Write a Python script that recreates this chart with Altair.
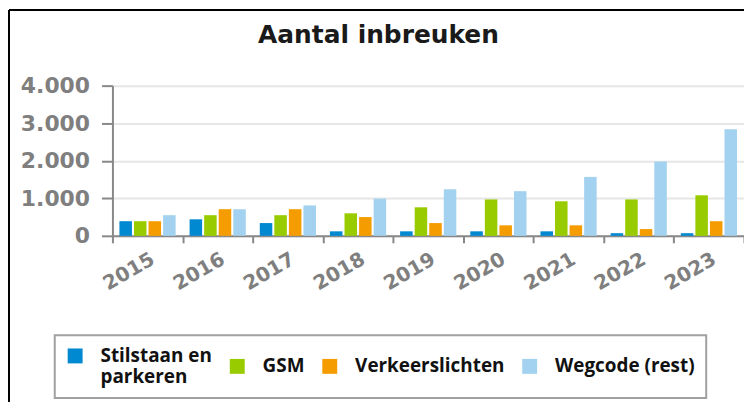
import altair as alt
import pandas as pd

years = ["2015", "2016", "2017", "2018", "2019", "2020", "2021", "2022", "2023"]
series = ["Stilstaan en parkeren", "GSM", "Verkeerslichten", "Wegcode (rest)"]
stilstaan = [390, 440, 340, 120, 120, 120, 120, 70, 70]
gsm = [390, 550, 550, 600, 760, 970, 920, 970, 1080]
verkeerslichten = [390, 710, 710, 500, 340, 280, 280, 180, 390]
wegcode = [550, 710, 810, 990, 1240, 1190, 1570, 1980, 2840]
colors = ["#0088d1", "#99cc00", "#f59d00", "#a3d2f0"]

rows = []
for s, vals in zip(series, [stilstaan, gsm, verkeerslichten, wegcode]):
    for y, v in zip(years, vals):
        rows.append({"jaar": y, "reeks": s, "waarde": v})
df = pd.DataFrame(rows)

label_expr = "datum.label == 'Stilstaan en parkeren' ? ['Stilstaan en', 'parkeren'] : datum.label"

bars = alt.Chart(df).mark_bar().encode(
    x=alt.X("jaar:N", sort=years, title=None,
            scale=alt.Scale(paddingInner=0, paddingOuter=0),
            axis=alt.Axis(labelAngle=-30, labelAlign="right", labelBaseline="top",
                          labelFont="DejaVu Sans", labelFontWeight="bold", labelFontSize=20,
                          labelColor="#7f7f7f", labelPadding=6, tickBand="extent",
                          tickSize=7, tickColor="#888888", domainColor="#888888",
                          domainWidth=2, tickWidth=2, grid=False)),
    xOffset=alt.XOffset("reeks:N", sort=series,
                        scale=alt.Scale(paddingInner=0.14, paddingOuter=0.48)),
    y=alt.Y("waarde:Q", title=None,
            scale=alt.Scale(domain=[0, 4000]),
            axis=alt.Axis(values=[0, 1000, 2000, 3000, 4000],
                          labelExpr="replace(format(datum.value, ','), ',', '.')",
                          labelFont="DejaVu Sans", labelFontWeight="bold", labelFontSize=22,
                          labelColor="#7f7f7f", labelPadding=12, tickSize=11,
                          tickColor="#888888", domainColor="#888888", domainWidth=2,
                          tickWidth=2, gridColor="#e6e6e6", gridWidth=2)),
    color=alt.Color("reeks:N", sort=series,
                    scale=alt.Scale(domain=series, range=colors),
                    legend=alt.Legend(title=None, orient="none", legendX=-58, legendY=251,
                                      direction="horizontal", columns=4,
                                      symbolType="square", symbolSize=225,
                                      symbolStrokeWidth=0,
                                      labelFont="Open Sans", labelFontWeight="bold",
                                      labelFontSize=19, labelColor="#111111",
                                      labelOffset=16, columnPadding=15,
                                      labelLimit=400, labelExpr=label_expr,
                                      labelBaseline="middle",
                                      strokeColor="#a0a0a0",
                                      padding=11, fillColor="white")),
)

frame_top = alt.Chart(pd.DataFrame({"v": [0]})).mark_rule(color="black", strokeWidth=2).encode(
    x=alt.value(-104), x2=alt.value(640), y=alt.value(-76))
frame_left = alt.Chart(pd.DataFrame({"v": [0]})).mark_rule(color="black", strokeWidth=2).encode(
    x=alt.value(-104), y=alt.value(-76), y2=alt.value(330))

chart = alt.layer(bars, frame_top, frame_left).properties(
    width=635, height=151,
    title=alt.TitleParams("Aantal inbreuken", font="DejaVu Sans", fontSize=25,
                          fontWeight="bold", color="#1a1a1a", offset=0, dx=-50, dy=39,
                          anchor="middle"),
    autosize=alt.AutoSizeParams(type="none"),
    padding={"left": 105, "top": 77, "right": 0, "bottom": 166},
).configure_view(stroke=None).configure_legend(strokeWidth=2)

chart.save("out.html", embed_options={"renderer": "svg", "actions": False})
